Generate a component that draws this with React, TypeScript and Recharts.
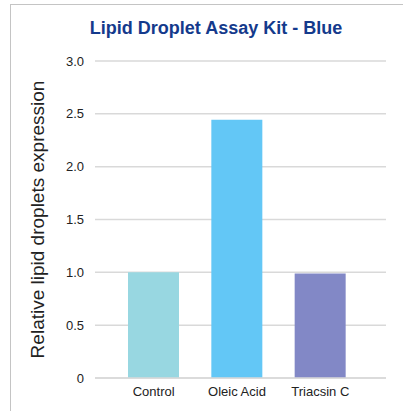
import React from "react";
import { BarChart, Bar, XAxis, YAxis, CartesianGrid, Cell, Label } from "recharts";

// values
const categories = ["Control", "Oleic Acid", "Triacsin C"];
const expression = [1.0, 2.445, 0.99];
const barColors = ["#98D7E1", "#63C7F6", "#8288C6"];
const yTicks = [0, 0.5, 1.0, 1.5, 2.0, 2.5, 3.0];

const data = categories.map((name, i) => ({ name, value: expression[i] }));

const FONT = "Arial, 'Liberation Sans', sans-serif";

const fmtTick = (v: number) => (v === 0 ? "0" : v.toFixed(1));

function YTitle(props: any) {
  const vb = props.viewBox;
  const cy = vb.y + vb.height / 2;
  return (
    <text
      x={37}
      y={cy}
      transform={`rotate(-90, 37, ${cy})`}
      textAnchor="middle"
      dominantBaseline="central"
      fontFamily={FONT}
      fontSize={19}
      fill="#222"
    >
      Relative lipid droplets expression
    </text>
  );
}

export default function App() {
  return (
    <div style={{ position: "absolute", left: 0, top: 0, width: 403, height: 411, background: "#fff", overflow: "hidden" }}>
      <div style={{ position: "absolute", left: 10, top: 4, width: 400, height: 1, background: "#C4C4C4" }} />
      <div style={{ position: "absolute", left: 10, top: 4, width: 1, height: 410, background: "#C4C4C4" }} />
      <div style={{ position: "absolute", left: 0, top: 0 }}>
        <BarChart
          width={403}
          height={411}
          data={data}
          margin={{ top: 61, right: 17, bottom: 3, left: 0 }}
        >
          <text x={216} y={34} textAnchor="middle" fontFamily={FONT} fontWeight="bold" fontSize={18} fill="#143A8C">
            Lipid Droplet Assay Kit - Blue
          </text>
          <CartesianGrid vertical={false} stroke="#D9D9D9" strokeWidth={1.5} />
          <XAxis
            dataKey="name"
            height={30}
            axisLine={{ stroke: "#D9D9D9", strokeWidth: 1.5 }}
            tickLine={false}
            tickSize={0}
            tickMargin={9}
            padding={{ left: 17, right: 24 }}
            tick={{ fontFamily: FONT, fontSize: 13, fill: "#222" }}
          />
          <YAxis
            width={95}
            domain={[0, 3]}
            ticks={yTicks}
            tickFormatter={fmtTick}
            axisLine={false}
            tickLine={false}
            tickSize={0}
            tickMargin={11}
            tick={{ fontFamily: FONT, fontSize: 13, fill: "#222" }}
          >
            <Label content={YTitle} />
          </YAxis>
          <Bar dataKey="value" barSize={51} isAnimationActive={false}>
            {data.map((d, i) => (
              <Cell key={d.name} fill={barColors[i]} />
            ))}
          </Bar>
        </BarChart>
      </div>
    </div>
  );
}
